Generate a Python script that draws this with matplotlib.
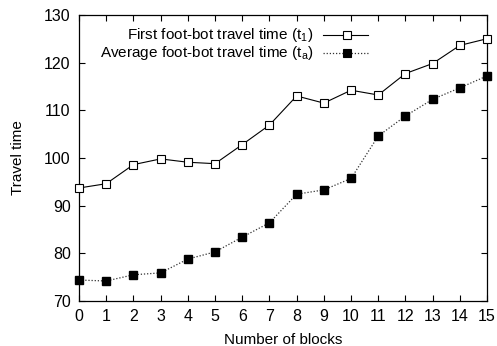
import matplotlib
matplotlib.use("Agg")
import matplotlib.pyplot as plt
from matplotlib.lines import Line2D

plt.rcParams['font.family'] = ['Liberation Sans', 'DejaVu Sans']
plt.rcParams['mathtext.fontset'] = 'custom'
plt.rcParams['mathtext.rm'] = 'Liberation Sans'
plt.rcParams['mathtext.it'] = 'Liberation Sans'

# Data
blocks = list(range(16))
first_time = [93.7, 94.6, 98.6, 99.8, 99.1, 98.8, 102.8, 106.9,
              113.0, 111.5, 114.2, 113.2, 117.7, 119.8, 123.6, 125.0]
avg_time = [74.4, 74.2, 75.5, 75.9, 78.8, 80.3, 83.4, 86.4,
            92.4, 93.3, 95.7, 104.6, 108.8, 112.3, 114.7, 117.2]
label_first = r'First foot-bot travel time ($\mathregular{t_1}$)'
label_avg = r'Average foot-bot travel time ($\mathregular{t_a}$)'

fig = plt.figure(figsize=(4.97, 3.46), dpi=100)
ax = fig.add_axes([0.159, 0.130, 0.821, 0.827])

dots = (0, (1, 1.5))
ax.plot(blocks, first_time, color='black', lw=0.8, marker='s', ms=5.8,
        mfc='white', mec='black', mew=0.8, clip_on=False, zorder=3)
ax.plot(blocks, avg_time, color='#333333', lw=0.9, ls=dots, marker='s', ms=5.8,
        mfc='black', mec='black', clip_on=False, zorder=3)

ax.set_xlim(0, 15)
ax.set_ylim(70, 130)
ax.set_xticks(blocks)
ax.set_yticks(range(70, 131, 10))
ax.tick_params(direction='in', top=True, right=True, length=4, width=0.8,
               labelsize=11.5, pad=6)
for s in ax.spines.values():
    s.set_linewidth(0.9)
ax.set_xlabel('Number of blocks', fontsize=11, labelpad=6)
ax.set_ylabel('Travel time', fontsize=11, labelpad=14)

# gnuplot-style key: right-justified text, sample on the right
rows = [(0.930, label_first, 'black', 0.8, '-', 'white'),
        (0.867, label_avg, '#333333', 0.9, dots, 'black')]
for ypos, lab, col, lw, ls, fill in rows:
    ax.text(0.574, ypos, lab, transform=ax.transAxes, ha='right', va='center', fontsize=11)
    ax.add_line(Line2D([0.598, 0.708], [ypos, ypos], transform=ax.transAxes,
                       color=col, lw=lw, ls=ls))
    ax.add_line(Line2D([0.656], [ypos], transform=ax.transAxes, marker='s', ms=5.8,
                       mfc=fill, mec='black', mew=0.8, ls='none'))

fig.savefig('out.png', dpi=100)
